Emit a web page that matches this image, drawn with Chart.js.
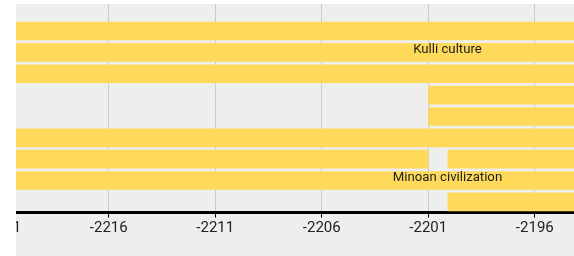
<!DOCTYPE html>
<html>
<head>
<meta charset="utf-8">
<script src="https://cdn.jsdelivr.net/npm/chart.js@4"></script>
<style>
    html, body { margin: 0; padding: 0; background: #ffffff; overflow: hidden; }
    #wrap {
        position: absolute; left: 16px; top: 4px;
        width: 558px; height: 252px;
        overflow: hidden; background: #eeeeee;
    }
    #inner { position: absolute; left: -64px; top: 0; width: 622px; height: 252px; }
</style>
</head>
<body>
<div id="wrap"><div id="inner"><canvas id="timeline" width="622" height="252"></canvas></div></div>
<script>
// Timeline rows (1 = top), one entry per bar
const barRows   = [1, 2, 3, 4, 5, 6, 7, 7, 8, 9];
const barStart  = [-2240, -2240, -2240, -2201, -2201, -2240, -2240, -2200.1, -2240, -2200.1];
const barEnd    = [-2180, -2180, -2180, -2180, -2180, -2180, -2201, -2180, -2180, -2180];
const barLabels = ['', 'Kulli culture', '', '', '', '', '', '', 'Minoan civilization', ''];

// Year ticks on the x axis
const tickYears = [-2221, -2216, -2211, -2206, -2201, -2196];

/**
 * Writes the bar captions on top of the bars.
 */
const barLabelPlugin = {
    id: 'barLabels',
    afterDatasetsDraw(chart) {
        const ctx = chart.ctx;
        const xScale = chart.scales.x;
        const labelAt = xScale.getPixelForValue(-2200.1); // captions are centred here
        const meta = chart.getDatasetMeta(0);
        ctx.save();
        ctx.font = '13.2px Roboto';
        ctx.fillStyle = '#1e1e1e';
        ctx.textAlign = 'center';
        ctx.textBaseline = 'alphabetic';
        meta.data.forEach((bar, i) => {
            if (barLabels[i]) {
                ctx.fillText(barLabels[i], labelAt, bar.y + 0.5);
            }
        });
        ctx.restore();
    }
};

document.addEventListener('DOMContentLoaded', () => {
    const ctx = document.getElementById('timeline').getContext('2d');
    new Chart(ctx, {
        type: 'bar',
        data: {
            datasets: [{
                data: barRows.map((row, i) => ({ x: [barStart[i], barEnd[i]], y: row })),
                backgroundColor: '#ffd95a',
                borderWidth: 0,
                barPercentage: 0.872,
                categoryPercentage: 1
            }]
        },
        options: {
            indexAxis: 'y',
            responsive: false,
            devicePixelRatio: 1,
            animation: false,
            layout: { padding: 0 },
            plugins: {
                legend: { display: false },
                tooltip: { enabled: false }
            },
            scales: {
                x: {
                    type: 'linear',
                    position: 'bottom',
                    min: -2223.36,
                    max: -2194.16,
                    afterBuildTicks: (scale) => {
                        scale.ticks = tickYears.map(v => ({ value: v }));
                    },
                    afterFit: (scale) => {
                        scale.height = 43.4;
                    },
                    grid: {
                        color: '#cccccc',
                        lineWidth: 1,
                        tickLength: 5,
                        tickColor: '#000000'
                    },
                    border: { display: true, color: '#000000', width: 3 },
                    ticks: {
                        font: { family: 'Roboto', size: 15 },
                        color: '#222222',
                        padding: 2,
                        maxRotation: 0,
                        callback: (value) => String(value)
                    }
                },
                y: {
                    type: 'linear',
                    reverse: true,
                    offset: false,
                    min: -0.264,
                    max: 9.5,
                    display: false
                }
            }
        },
        plugins: [barLabelPlugin]
    });
});
</script>
</body>
</html>
